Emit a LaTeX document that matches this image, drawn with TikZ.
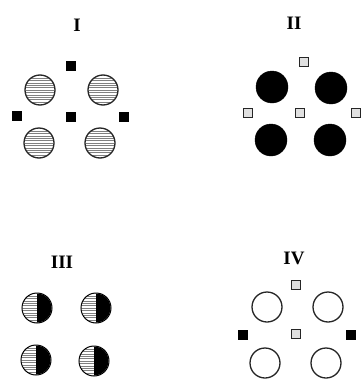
\documentclass[tikz,border=0pt]{standalone}
\usepackage{fontspec}
\setmainfont{Liberation Serif}
\tikzset{
  lab/.style={font=\bfseries\fontsize{19}{19}\selectfont, inner sep=0pt},
  bsq/.style={rectangle, draw=black, fill=black, minimum size=9pt, inner sep=0pt, line width=0.6pt},
  lsq/.style={rectangle, draw=black!85, fill=black!12, minimum size=9pt, inner sep=0pt, line width=1pt},
  hcirc/.style={circle, draw=black!85, line width=1.3pt, minimum size=30pt, inner sep=0pt},
  fcirc/.style={circle, draw=black, fill=black, minimum size=32pt, inner sep=0pt},
  ocirc/.style={circle, draw=black!85, line width=1.3pt, minimum size=30pt, inner sep=0pt},
  hcirchalf/.style={circle, draw=black, line width=1pt, minimum size=30pt, inner sep=0pt},
}
\newcommand{\hatchcirc}[3]{% name, x, y
  \begin{scope}
    \clip (#2,#3) circle (14.5pt);
    \foreach \k in {-6,...,6} {\draw[black!50, line width=0.5pt] (#2-16,#3+\k*2.4) -- (#2+16,#3+\k*2.4);}
  \end{scope}
  \node[hcirc] (#1) at (#2,#3) {};
}
\newcommand{\halfcirc}[3]{% name, x, y
  \begin{scope}
    \clip (#2,#3) circle (14.5pt);
    \foreach \k in {-6,...,6} {\draw[black!50, line width=0.5pt] (#2-16,#3+\k*2.4) -- (#2,#3+\k*2.4);}
    \fill[black] (#2,#3-16) rectangle (#2+16,#3+16);
  \end{scope}
  \node[hcirchalf] (#1) at (#2,#3) {};
}
\begin{document}
\begin{tikzpicture}[x=1pt,y=-1pt]
\useasboundingbox[fill=white] (0,0) rectangle (362,383);
% Panel I
\node[lab] (l1) at (77,25) {I};
\node[bsq] (s1t) at (71,66) {};
\node[bsq] (s1l) at (17,116) {};
\node[bsq] (s1c) at (71,117) {};
\node[bsq] (s1r) at (124,117) {};
\hatchcirc{c1a}{40}{90}
\hatchcirc{c1b}{103}{90}
\hatchcirc{c1c}{39}{143}
\hatchcirc{c1d}{100}{143}
% Panel II
\node[lab] (l2) at (294,23) {II};
\node[lsq] (s2t) at (304,62) {};
\node[lsq] (s2l) at (248,113) {};
\node[lsq] (s2c) at (300,113) {};
\node[lsq] (s2r) at (356,113) {};
\node[fcirc] (c2a) at (272,87) {};
\node[fcirc] (c2b) at (331,88) {};
\node[fcirc] (c2c) at (271,140) {};
\node[fcirc] (c2d) at (330,140) {};
% Panel III
\node[lab] (l3) at (62,262) {III};
\halfcirc{c3a}{37}{308}
\halfcirc{c3b}{96}{308}
\halfcirc{c3c}{36}{360}
\halfcirc{c3d}{94}{361}
% Panel IV
\node[lab] (l4) at (294,258) {IV};
\node[lsq] (s4t) at (296,285) {};
\node[bsq] (s4l) at (243,335) {};
\node[lsq] (s4c) at (296,334) {};
\node[bsq] (s4r) at (351,335) {};
\node[ocirc] (c4a) at (267,307) {};
\node[ocirc] (c4b) at (328,307) {};
\node[ocirc] (c4c) at (265,363) {};
\node[ocirc] (c4d) at (326,363) {};
\end{tikzpicture}
\end{document}
